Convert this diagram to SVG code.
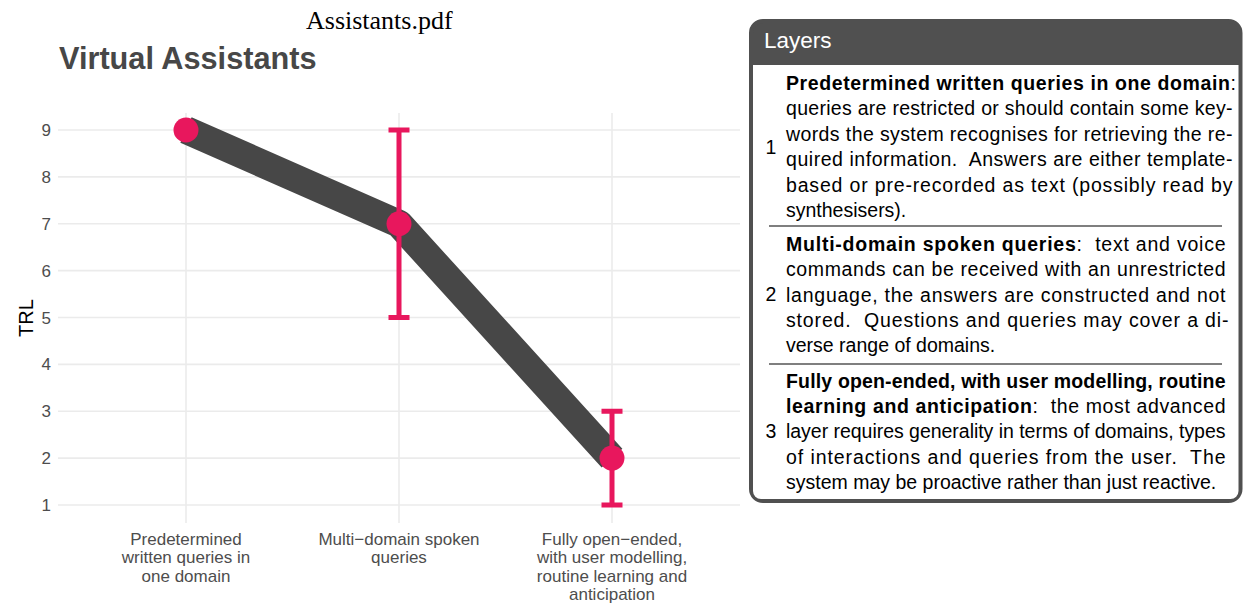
<svg xmlns="http://www.w3.org/2000/svg" width="1254" height="603" viewBox="0 0 1254 603">
<style>
.grid{stroke:#EBEBEB;stroke-width:1.6;fill:none}
.tick{font-family:"Liberation Sans",Arial,sans-serif;font-size:17px;fill:#4D4D4D}
.xl{font-family:"Liberation Sans",Arial,sans-serif;font-size:17px;fill:#4D4D4D;text-anchor:middle}
.err{stroke:#E8175D;stroke-width:5;fill:none}
.pt{fill:#E8175D}
.body{font-family:"Liberation Sans",Arial,sans-serif;font-size:19.5px;fill:#000;white-space:pre}
.b{font-weight:bold}
.sep{stroke:#000;stroke-width:1.1}
</style>
<rect width="1254" height="603" fill="#fff"/>
<text x="306" y="29" font-family="'Liberation Serif','Times New Roman',serif" font-size="26" fill="#000">Assistants.pdf</text>
<g id="title"><text x="59" y="69" font-family="'Liberation Sans',Arial,sans-serif" font-size="30.7" font-weight="bold" fill="#474747">Virtual Assistants</text></g>
<g id="gridlines">
<path class="grid" d="M58 130H740M58 176.9H740M58 223.75H740M58 270.6H740M58 317.5H740M58 364.4H740M58 411.25H740M58 458.1H740M58 505H740"/>
<path class="grid" d="M186 113V523M399 113V523M612 113V523"/>
</g>
<g id="y-axis">
<text class="tick" text-anchor="end" x="51" y="136">9</text>
<text class="tick" text-anchor="end" x="51" y="182.9">8</text>
<text class="tick" text-anchor="end" x="51" y="229.75">7</text>
<text class="tick" text-anchor="end" x="51" y="276.6">6</text>
<text class="tick" text-anchor="end" x="51" y="323.5">5</text>
<text class="tick" text-anchor="end" x="51" y="370.4">4</text>
<text class="tick" text-anchor="end" x="51" y="417.25">3</text>
<text class="tick" text-anchor="end" x="51" y="464.1">2</text>
<text class="tick" text-anchor="end" x="51" y="511">1</text>
<text transform="translate(32.5 318) rotate(-90)" text-anchor="middle" font-family="'Liberation Sans',Arial,sans-serif" font-size="20" fill="#000">TRL</text>
</g>
<g id="x-axis">
<text class="xl" x="186" y="544.5">Predetermined</text>
<text class="xl" x="186" y="563">written queries in</text>
<text class="xl" x="186" y="581.5">one domain</text>
<text class="xl" x="399" y="544.5">Multi−domain spoken</text>
<text class="xl" x="399" y="563">queries</text>
<text class="xl" x="612" y="544.5">Fully open−ended,</text>
<text class="xl" x="612" y="563">with user modelling,</text>
<text class="xl" x="612" y="581.5">routine learning and</text>
<text class="xl" x="612" y="600">anticipation</text>
</g>
<g id="connectors">
<polyline points="186,130 399,223.75 612,458.1" fill="none" stroke="#474747" stroke-width="28" stroke-linejoin="round" stroke-linecap="butt"/>
</g>
<g id="error-bars">
<path class="err" d="M399 130V317.5M388.5 130H409.5M388.5 317.5H409.5"/>
<path class="err" d="M612 411.25V505M601.5 411.25H622.5M601.5 505H622.5"/>
</g>
<g id="node-1"><circle class="pt" cx="186" cy="130" r="12.5"/></g>
<g id="node-2"><circle class="pt" cx="399" cy="223.75" r="12.5"/></g>
<g id="node-3"><circle class="pt" cx="612" cy="458.1" r="12.5"/></g>
<g id="legend">
<rect x="751" y="21" width="489.5" height="480" rx="12" fill="#505050" stroke="#505050" stroke-width="4"/>
<path d="M753 65H1238.5V491A8 8 0 0 1 1230.5 499H761A8 8 0 0 1 753 491Z" fill="#fff"/>
<text x="764" y="47.5" font-family="'Liberation Sans',Arial,sans-serif" font-size="22.5" fill="#fff">Layers</text>
<line class="sep" x1="769" y1="226" x2="1222" y2="226"/>
<line class="sep" x1="769" y1="364" x2="1222" y2="364"/>
</g>
<g id="layer-1">
<text class="body" x="765.5" y="153.5">1</text>
<text class="body" x="786" y="90" textLength="450" lengthAdjust="spacing"><tspan class="b">Predetermined written queries in one domain</tspan>:</text>
<text class="body" x="786" y="115.4" textLength="446.5" lengthAdjust="spacing">queries are restricted or should contain some key-</text>
<text class="body" x="786" y="140.9" textLength="446.5" lengthAdjust="spacing">words the system recognises for retrieving the re-</text>
<text class="body" x="786" y="166.4" textLength="446.5" lengthAdjust="spacing">quired information.  Answers are either template-</text>
<text class="body" x="786" y="191.9" textLength="446.5" lengthAdjust="spacing">based or pre-recorded as text (possibly read by</text>
<text class="body" x="786" y="217.4">synthesisers).</text>
</g>
<g id="layer-2">
<text class="body" x="765.5" y="301.3">2</text>
<text class="body" x="786" y="251" textLength="439.5" lengthAdjust="spacing"><tspan class="b">Multi-domain spoken queries</tspan>:  text and voice</text>
<text class="body" x="786" y="276.3" textLength="439.5" lengthAdjust="spacing">commands can be received with an unrestricted</text>
<text class="body" x="786" y="301.6" textLength="439.5" lengthAdjust="spacing">language, the answers are constructed and not</text>
<text class="body" x="786" y="326.9" textLength="442.5" lengthAdjust="spacing">stored.  Questions and queries may cover a di-</text>
<text class="body" x="786" y="352.2">verse range of domains.</text>
</g>
<g id="layer-3">
<text class="body" x="765.5" y="438.4">3</text>
<text class="body b" x="786" y="387.7" textLength="439.5" lengthAdjust="spacing">Fully open-ended, with user modelling, routine</text>
<text class="body" x="786" y="413" textLength="439.5" lengthAdjust="spacing"><tspan class="b">learning and anticipation</tspan>:  the most advanced</text>
<text class="body" x="786" y="438.4" textLength="439.5" lengthAdjust="spacing">layer requires generality in terms of domains, types</text>
<text class="body" x="786" y="463.8" textLength="439.5" lengthAdjust="spacing">of interactions and queries from the user.  The</text>
<text class="body" x="786" y="489.2">system may be proactive rather than just reactive.</text>
</g>
</svg>
